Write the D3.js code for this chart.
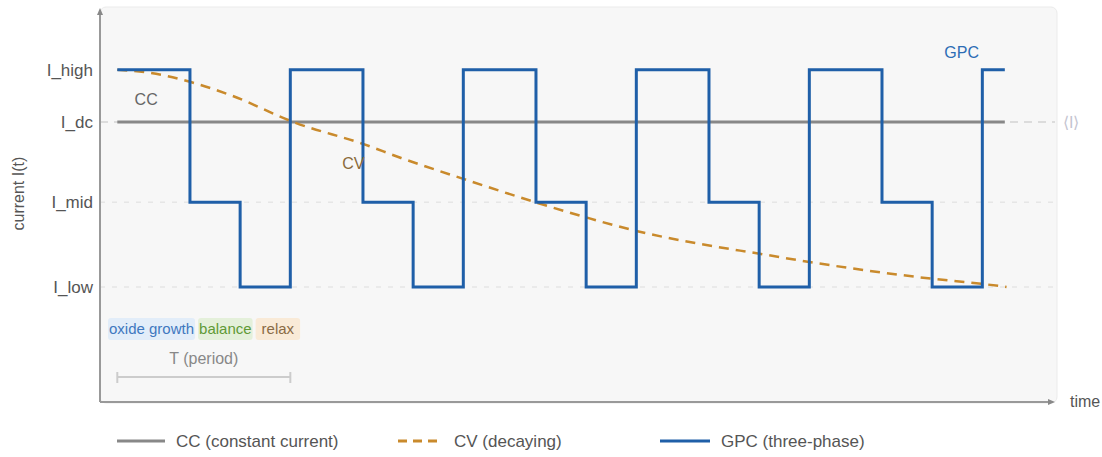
<!DOCTYPE html>
<html>
<head>
<meta charset="utf-8">
<script src="https://cdn.jsdelivr.net/npm/d3@7"></script>
<style>
  body { margin: 0; background: #fff; }
  svg text { font-family: "Liberation Sans", Arial, sans-serif; }
</style>
</head>
<body>
<svg id="chart" width="1102" height="457"></svg>
<script>
// current levels (arbitrary units)
const levelNames = ['I_low', 'I_mid', 'I_dc', 'I_high']
const levelValues = [0, 0.39, 0.76, 1]

// GPC switching times (in periods) and the level it switches to
const gpcTimes  = [0, 0.42, 0.71, 1, 1.42, 1.71, 2, 2.42, 2.71, 3, 3.42, 3.71, 4, 4.42, 4.71, 5, 5.13]
const gpcLevels = ['I_high', 'I_mid', 'I_low', 'I_high', 'I_mid', 'I_low', 'I_high', 'I_mid', 'I_low',
  'I_high', 'I_mid', 'I_low', 'I_high', 'I_mid', 'I_low', 'I_high', 'I_high']

// CV decaying current
const cvTimes  = [0, 0.19, 0.42, 0.65, 1.03, 1.42, 1.64, 2, 2.43, 2.72, 3, 3.37, 3.72, 4, 4.72, 5, 5.14]
const cvValues = [1, 0.986, 0.945, 0.885, 0.756, 0.659, 0.594, 0.498, 0.387, 0.318, 0.258, 0.198, 0.152, 0.115, 0.037, 0.014, 0]

// CC
const ccTimes = [0, 5.13]

const phaseLabels = ['oxide growth', 'balance', 'relax']
const legendLabels = ['CC (constant current)', 'CV (decaying)', 'GPC (three-phase)']

const level = name => levelValues[levelNames.indexOf(name)]

const svg = d3.select('#chart')
const x = d3.scaleLinear().domain([-0.1, 5.42]).range([100, 1055])
const y = d3.scaleLinear().domain([-0.53, 1.285]).range([402, 8])

const colors = { cc: '#888888', cv: '#c98a2c', gpc: '#1f5fa8' }

// plot background
svg.append('rect')
    .attr('x', 100).attr('y', 7)
    .attr('width', 957).attr('height', 396)
    .attr('rx', 6)
    .style('fill', '#f7f7f7')
    .style('stroke', '#ebebeb')

// dashed guides
const guides = ['I_low', 'I_mid', 'I_dc']
svg.append('g').selectAll('line')
    .data(guides)
    .enter()
        .append('line')
        .attr('x1', x.range()[0]).attr('x2', x.range()[1])
        .attr('y1', d => y(level(d))).attr('y2', d => y(level(d)))
        .style('stroke', d => d === 'I_dc' ? '#dcdcdc' : '#e6e6e6')
        .style('stroke-width', d => d === 'I_dc' ? 2 : 1.5)
        .style('stroke-dasharray', d => d === 'I_dc' ? '8 6' : '5 7')

svg.append('text')
    .attr('x', 1063).attr('y', y(level('I_dc')) + 6)
    .style('fill', '#c4c4d0')
    .style('font-size', '16px')
    .text('⟨I⟩')

// y axis labels
const yAxis = d3.axisLeft(y)
    .tickValues(levelValues)
    .tickFormat((d, i) => levelNames[i])
    .tickSize(0)
    .tickPadding(7)

const yg = svg.append('g')
    .attr('transform', 'translate(100,0)')
    .call(yAxis)
yg.select('.domain').remove()
yg.selectAll('text')
    .style('font-size', '17px')
    .style('fill', '#555')
    .style('font-family', '"Liberation Sans", Arial, sans-serif')

// axes with arrows
svg.append('defs')
    .append('marker')
    .attr('id', 'arrow')
    .attr('markerWidth', 8).attr('markerHeight', 8)
    .attr('refX', 2).attr('refY', 3)
    .attr('orient', 'auto')
    .attr('markerUnits', 'userSpaceOnUse')
    .append('path')
    .attr('d', 'M0,0 L0,6 L7,3 z')
    .style('fill', '#888')

svg.append('line')
    .attr('x1', 100).attr('y1', 402).attr('x2', 100).attr('y2', 13)
    .attr('marker-end', 'url(#arrow)')
    .style('stroke', '#999').style('stroke-width', 2)
svg.append('line')
    .attr('x1', 100).attr('y1', 402).attr('x2', 1050).attr('y2', 402)
    .attr('marker-end', 'url(#arrow)')
    .style('stroke', '#999').style('stroke-width', 2)

svg.append('text')
    .attr('x', 1070).attr('y', 407)
    .style('font-size', '16px').style('fill', '#555')
    .text('time')

svg.append('text')
    .attr('transform', `translate(24, ${y(0.43)})rotate(-90)`)
    .style('text-anchor', 'middle')
    .style('font-size', '16px').style('fill', '#555')
    .text('current I(t)')

// CC
svg.append('path')
    .datum(ccTimes)
    .attr('d', d3.line().x(d => x(d)).y(() => y(level('I_dc'))))
    .style('fill', 'none')
    .style('stroke', colors.cc)
    .style('stroke-width', 3)

// CV
svg.append('path')
    .datum(d3.zip(cvTimes, cvValues))
    .attr('d', d3.line().x(d => x(d[0])).y(d => y(d[1])).curve(d3.curveMonotoneX))
    .style('fill', 'none')
    .style('stroke', colors.cv)
    .style('stroke-width', 2.5)
    .style('stroke-dasharray', '10 7')

// GPC
svg.append('path')
    .datum(d3.zip(gpcTimes, gpcLevels))
    .attr('d', d3.line().x(d => x(d[0])).y(d => y(level(d[1]))).curve(d3.curveStepAfter))
    .style('fill', 'none')
    .style('stroke', colors.gpc)
    .style('stroke-width', 3)

// inline series labels
const seriesTags = [
    { label: 'CC', t: 0.1, v: 0.84, color: '#666' },
    { label: 'CV', t: 1.3, v: 0.545, color: '#8a6a3a' },
    { label: 'GPC', t: 4.78, v: 1.055, color: '#2d6db5' }
]
svg.append('g').selectAll('text')
    .data(seriesTags)
    .enter()
        .append('text')
        .attr('x', d => x(d.t)).attr('y', d => y(d.v))
        .style('font-size', '16px')
        .style('fill', d => d.color)
        .text(d => d.label)

// phase labels
const phaseStyle = [
    { bg: '#e2edf9', fg: '#3f78bf' },
    { bg: '#e4f0da', fg: '#5f9a36' },
    { bg: '#f9ead7', fg: '#8a6a45' }
]
const phaseG = svg.append('g')
let px = 108
phaseLabels.forEach((lab, i) => {
    const g = phaseG.append('g')
    const t = g.append('text')
        .attr('y', 334)
        .style('font-size', '15px')
        .style('fill', phaseStyle[i].fg)
        .text(lab)
    const w = t.node().getComputedTextLength()
    const pad = i === 2 ? 6 : 1
    g.insert('rect', 'text')
        .attr('x', px).attr('y', 318)
        .attr('width', w + pad * 2).attr('height', 22)
        .attr('rx', 3)
        .style('fill', phaseStyle[i].bg)
    t.attr('x', px + pad)
    px += w + pad * 2 + 3
})

// period bracket
const periodG = svg.append('g').style('stroke', '#ccc').style('stroke-width', 2)
periodG.append('line')
    .attr('x1', x(0)).attr('x2', x(1)).attr('y1', 377).attr('y2', 377)
periodG.selectAll('line.end')
    .data([0, 1])
    .enter()
        .append('line')
        .attr('x1', d => x(d)).attr('x2', d => x(d))
        .attr('y1', 372).attr('y2', 383)
svg.append('text')
    .attr('x', x(0.5)).attr('y', 364)
    .style('text-anchor', 'middle')
    .style('font-size', '16px').style('fill', '#888')
    .text('T (period)')

// legend
const legendX = [117, 398, 660]
const legendW = [48, 45, 50]
const legendStyle = [
    { color: colors.cc, dash: null },
    { color: colors.cv, dash: '9 6' },
    { color: colors.gpc, dash: null }
]
const legend = svg.append('g').attr('transform', 'translate(0, 441)')
legendLabels.forEach((lab, i) => {
    legend.append('line')
        .attr('x1', legendX[i]).attr('x2', legendX[i] + legendW[i])
        .attr('y1', 0).attr('y2', 0)
        .style('stroke', legendStyle[i].color)
        .style('stroke-width', 3)
        .style('stroke-dasharray', legendStyle[i].dash)
    legend.append('text')
        .attr('x', legendX[i] + legendW[i] + 11).attr('y', 6)
        .style('font-size', '17px').style('fill', '#555')
        .text(lab)
})
</script>
</body>
</html>
